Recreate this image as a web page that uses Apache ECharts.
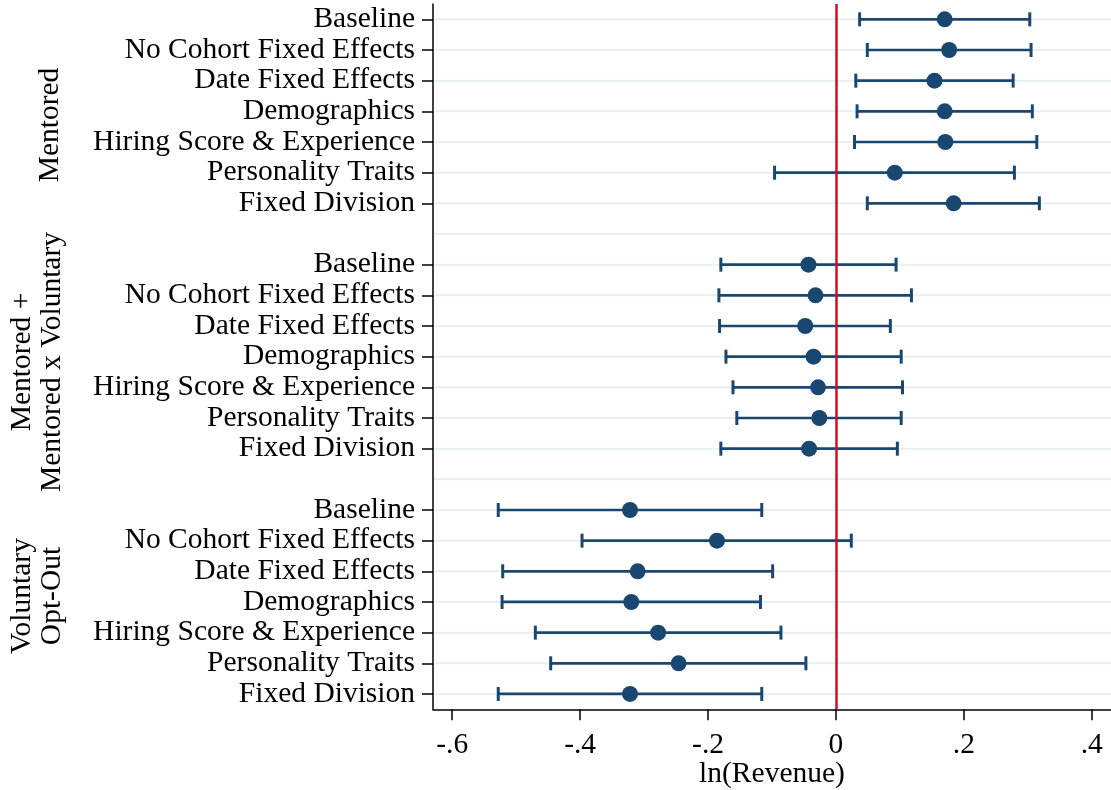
<!DOCTYPE html>
<html><head><meta charset="utf-8">
<script src="https://cdn.jsdelivr.net/npm/echarts@6/dist/echarts.min.js"></script>
<style>html,body{margin:0;padding:0;background:#fff}#c{width:1111px;height:790px}</style>
</head><body><div id="c"></div>
<script>
// ---- data ----
const specLabels = ['Baseline','No Cohort Fixed Effects','Date Fixed Effects','Demographics','Hiring Score & Experience','Personality Traits','Fixed Division'];
const groupNames = ['Mentored', 'Mentored +\nMentored x Voluntary', 'Voluntary\nOpt-Out'];
const mentoredEst = [0.170, 0.177, 0.154, 0.170, 0.171, 0.092, 0.184];
const mentoredLo  = [0.037, 0.049, 0.031, 0.033, 0.029, -0.096, 0.049];
const mentoredHi  = [0.303, 0.305, 0.277, 0.307, 0.314, 0.279, 0.318];
const interEst = [-0.043, -0.032, -0.048, -0.035, -0.028, -0.026, -0.042];
const interLo  = [-0.180, -0.183, -0.182, -0.172, -0.161, -0.155, -0.180];
const interHi  = [0.094, 0.118, 0.085, 0.102, 0.104, 0.102, 0.096];
const optEst = [-0.322, -0.186, -0.310, -0.320, -0.278, -0.246, -0.322];
const optLo  = [-0.528, -0.397, -0.521, -0.522, -0.470, -0.446, -0.528];
const optHi  = [-0.116, 0.024, -0.099, -0.118, -0.086, -0.047, -0.116];
const xTicks = [-0.6, -0.4, -0.2, 0, 0.2, 0.4];
const xTickLabels = ['-.6', '-.4', '-.2', '0', '.2', '.4'];
const xTitle = 'ln(Revenue)';

// ---- build rows ----
const groups = [
  {est: mentoredEst, lo: mentoredLo, hi: mentoredHi},
  {est: interEst, lo: interLo, hi: interHi},
  {est: optEst, lo: optLo, hi: optHi}
];
const categories = [];
const pointData = [];
const barData = [];
groups.forEach((g, gi) => {
  if (gi > 0) categories.push('__gap' + gi);
  specLabels.forEach((lab, i) => {
    const idx = categories.length;
    categories.push(lab + '__' + gi);
    pointData.push([g.est[i], idx]);
    barData.push([g.lo[i], g.hi[i], idx]);
  });
});
const gridRows = categories.map((c, i) => [0, i]);
const isGap = v => v.indexOf('__gap') === 0;
const catLabel = v => isGap(v) ? '' : v.split('__')[0];

const FONT = "'Liberation Serif', 'Times New Roman', serif";
const FS = 29.5;
const NAVY = '#1a476f';

const chart = echarts.init(document.getElementById('c'), null, {renderer: 'canvas'});
const option = {
  animation: false,
  backgroundColor: '#fff',
  grid: {left: 433, top: 4, width: 678, height: 705.3, containLabel: false, outerBoundsMode: 'none'},
  xAxis: {
    type: 'value', min: -0.63, max: 0.43,
    axisLine: {show: true, onZero: false, lineStyle: {color: '#000', width: 1.5}},
    axisTick: {show: true, length: 11, customValues: xTicks, lineStyle: {color: '#000', width: 1.5}},
    axisLabel: {customValues: xTicks, margin: 21, color: '#000', fontFamily: FONT, fontSize: FS,
      formatter: v => { const k = xTicks.findIndex(t => Math.abs(t - v) < 1e-9); return k >= 0 ? xTickLabels[k] : ''; }},
    splitLine: {show: false},
    name: xTitle, nameLocation: 'middle', nameGap: 50, nameMoveOverlap: false,
    nameTextStyle: {color: '#000', fontFamily: FONT, fontSize: FS}
  },
  yAxis: {
    type: 'category', data: categories, inverse: true, boundaryGap: true,
    axisLine: {show: true, onZero: false, lineStyle: {color: '#000', width: 1.5}},
    axisTick: {show: true, length: 11, alignWithLabel: true, lineStyle: {color: '#000', width: 1.5},
      interval: (i, v) => !isGap(v)},
    axisLabel: {interval: 0, margin: 18, color: '#000', fontFamily: FONT, fontSize: FS, formatter: catLabel,
      padding: [4, 0, 0, 0]},
    splitLine: {show: false}
  },
  graphic: groupNames.map((name, gi) => {
    const cy = [125, 362, 596][gi];
    const cx = gi === 0 ? 50 : 37;
    return {type: 'text', x: cx, y: cy, rotation: Math.PI / 2, silent: true,
      style: {text: name, fill: '#000', font: FS + "px " + FONT, textAlign: 'center', textVerticalAlign: 'middle', lineHeight: 30}};
  }),
  series: [
    {
      type: 'custom', z: 1, silent: true, data: gridRows, encode: {x: 0, y: 1},
      renderItem: (params, api) => {
        const y = api.coord([0, api.value(1)])[1];
        const cs = params.coordSys;
        return {type: 'line', shape: {x1: cs.x + 1, y1: y, x2: cs.x + cs.width, y2: y},
          style: {stroke: '#e8eff2', lineWidth: 2}};
      }
    },
    {
      type: 'custom', z: 2, silent: true, data: barData, encode: {x: [0, 1], y: 2},
      renderItem: (params, api) => {
        const p1 = api.coord([api.value(0), api.value(2)]);
        const p2 = api.coord([api.value(1), api.value(2)]);
        const h = 7;
        return {type: 'group', children: [
          {type: 'line', shape: {x1: p1[0], y1: p1[1], x2: p2[0], y2: p2[1]}, style: {stroke: NAVY, lineWidth: 2.7}},
          {type: 'line', shape: {x1: p1[0], y1: p1[1] - h, x2: p1[0], y2: p1[1] + h}, style: {stroke: NAVY, lineWidth: 3}},
          {type: 'line', shape: {x1: p2[0], y1: p2[1] - h, x2: p2[0], y2: p2[1] + h}, style: {stroke: NAVY, lineWidth: 3}}
        ]};
      }
    },
    {
      type: 'scatter', z: 3, silent: true, data: pointData, symbol: 'circle', symbolSize: 16,
      itemStyle: {color: NAVY, opacity: 1},
      markLine: {silent: true, symbol: ['none', 'none'], label: {show: false}, z: 4,
        lineStyle: {color: '#c8102e', width: 2.5, type: 'solid'},
        data: [{xAxis: 0}]}
    }
  ]
};
chart.setOption(option);
</script>
</body></html>
